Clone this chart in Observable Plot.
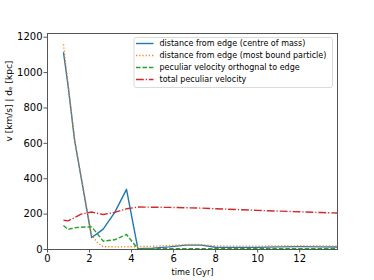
<!DOCTYPE html>
<html>
<head>
<meta charset="utf-8">
<script src="https://cdn.jsdelivr.net/npm/d3@7"></script>
<script src="https://cdn.jsdelivr.net/npm/@observablehq/plot@0.6"></script>
<style>
  html, body { margin: 0; padding: 0; background: #fff; }
  #chart { width: 374px; height: 280px; }
</style>
</head>
<body>
<div id="chart"></div>
<script>
// time of each snapshot [Gyr]
const times = [0.76, 0.98, 1.29, 1.6, 2.1, 2.35, 2.65, 3.2, 3.76, 4.3, 5.0, 5.8, 6.6, 7.3, 8.0, 9.0, 10.0, 11.0, 12.0, 13.0, 13.8];
// distance from edge (centre of mass) [kpc]
const distCOM = [1115, 925, 617, 408, 68, 88, 115, 210, 340, 5, 8, 15, 25, 25, 13, 12, 12, 15, 16, 15, 14];
// distance from edge (most bound particle) [kpc]
const distMBP = [1160, 935, 620, 410, 85, 42, 16, 15, 15, 16, 18, 22, 28, 28, 20, 19, 19, 20, 21, 20, 19];
// peculiar velocity orthogonal to edge [km/s]
const vOrth = [136, 113, 123, 126, 128, 92, 47, 55, 85, 4, 4, 4, 5, 5, 4, 4, 4, 4, 4, 4, 4];
// total peculiar velocity [km/s]
const vTot = [165, 162, 180, 200, 212, 205, 198, 210, 230, 240, 239, 238, 236, 234, 230, 226, 221, 217, 213, 209, 206];

const seriesNames = [
  "distance from edge (centre of mass)",
  "distance from edge (most bound particle)",
  "peculiar velocity orthognal to edge",
  "total peculiar velocity"
];
const seriesValues = [distCOM, distMBP, vOrth, vTot];
const seriesColors = ["#1f77b4", "#ff7f0e", "#2ca02c", "#d62728"];
const seriesDash = [null, "1.2,2", "4.5,1.95", "7.8,1.95,1.2,1.95"];

const xTicks = [0, 2, 4, 6, 8, 10, 12];
const yTicks = [0, 200, 400, 600, 800, 1000, 1200];
const xLabel = "time [Gyr]";
const yLabel = "v [km/s] | dₑ [kpc]";

const lineMarks = seriesValues.map((vals, i) => {
  const rows = times.map((t, j) => ({t, v: vals[j]}));
  return Plot.line(rows, {
    x: "t", y: "v",
    stroke: seriesColors[i],
    strokeWidth: 1.4,
    strokeDasharray: seriesDash[i] || undefined,
    strokeLinecap: "butt"
  });
});

const plot = Plot.plot({
  width: 374,
  height: 280,
  marginLeft: 47,
  marginRight: 37,
  marginTop: 33,
  marginBottom: 31,
  style: {fontFamily: "'DejaVu Sans', sans-serif", fontSize: "10px", color: "#000", background: "#fff"},
  x: {domain: [0, 13.8]},
  y: {domain: [0, 1221]},
  marks: [
    ...lineMarks,
    Plot.frame({stroke: "#555", strokeWidth: 1}),
    Plot.axisX({ticks: xTicks, tickSize: 3.5, tickPadding: 2, fontSize: 10, label: null, stroke: "#555", color: "#000", tickFormat: d3.format("d")}),
    Plot.axisY({ticks: yTicks, tickSize: 3.5, tickPadding: 1.5, fontSize: 10, label: null, stroke: "#555", color: "#000", tickFormat: d3.format("d")}),
    Plot.text([xLabel], {frameAnchor: "bottom", dy: 25, text: d => d, fontSize: 8.2, fill: "#000"}),
    Plot.text([yLabel], {frameAnchor: "left", dx: -38, rotate: -90, text: d => d, fontSize: 9, fill: "#000"})
  ]
});

document.getElementById("chart").appendChild(plot);

// legend inside the axes (upper right)
const svg = d3.select(plot);
const lg = svg.append("g").attr("transform", "translate(134,37.5)").attr("text-anchor", "start");
lg.append("rect")
  .attr("x", 0).attr("y", 0).attr("width", 198.5).attr("height", 50)
  .attr("rx", 2).attr("fill", "#fff").attr("fill-opacity", 0.8)
  .attr("stroke", "#d0d0d0").attr("stroke-width", 0.8);
seriesNames.forEach((name, i) => {
  const y = 6 + i * 12;
  const ln = lg.append("line")
    .attr("x1", 2).attr("x2", 19.5).attr("y1", y).attr("y2", y)
    .attr("stroke", seriesColors[i]).attr("stroke-width", 1.4);
  if (seriesDash[i]) ln.attr("stroke-dasharray", seriesDash[i]);
  lg.append("text")
    .attr("x", 25.5).attr("y", y).attr("dy", "0.35em")
    .attr("text-anchor", "start")
    .attr("font-family", "'DejaVu Sans', sans-serif")
    .attr("font-size", 8)
    .attr("fill", "#000")
    .text(name);
});
</script>
</body>
</html>
